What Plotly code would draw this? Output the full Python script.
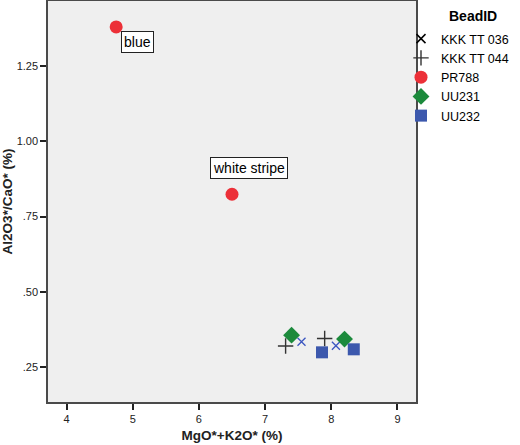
import plotly.graph_objects as go

# Data
kkk036_x = [7.55, 8.07]
kkk036_y = [0.334, 0.321]
kkk044_x = [7.31, 7.90]
kkk044_y = [0.320, 0.345]
pr788_x = [4.75, 6.50]
pr788_y = [1.38, 0.824]
pr788_labels = ["blue", "white stripe"]
uu231_x = [7.40, 8.20]
uu231_y = [0.356, 0.343]
uu232_x = [7.86, 8.34]
uu232_y = [0.299, 0.309]

x_ticks = [4, 5, 6, 7, 8, 9]
y_ticks = [0.25, 0.50, 0.75, 1.00, 1.25]
y_ticktext = [".25", ".50", ".75", "1.00", "1.25"]

FONT = "Liberation Sans, Arial, sans-serif"

fig = go.Figure()

# KKK TT 036 (x markers, drawn blue in plot, black in legend)
fig.add_trace(go.Scatter(x=kkk036_x, y=kkk036_y, mode="markers", showlegend=False,
                         marker=dict(symbol="x-thin", size=8, color="#3a55c0",
                                     line=dict(width=1.3, color="#3a55c0"))))
fig.add_trace(go.Scatter(x=[None], y=[None], mode="markers", name="KKK TT 036",
                         marker=dict(symbol="x-thin", size=9, color="black",
                                     line=dict(width=1.5, color="black"))))
fig.add_trace(go.Scatter(x=kkk044_x, y=kkk044_y, mode="markers", name="KKK TT 044",
                         marker=dict(symbol="cross-thin", size=11, color="#333333",
                                     line=dict(width=1.4, color="#333333"))))
fig.add_trace(go.Scatter(x=pr788_x, y=pr788_y, mode="markers", name="PR788",
                         marker=dict(symbol="circle", size=13, color="#ec3038",
                                     line=dict(width=0))))
fig.add_trace(go.Scatter(x=uu231_x, y=uu231_y, mode="markers", name="UU231",
                         marker=dict(symbol="diamond", size=13, color="#1c8a3c",
                                     line=dict(width=0))))
fig.add_trace(go.Scatter(x=uu232_x, y=uu232_y, mode="markers", name="UU232",
                         marker=dict(symbol="square", size=12, color="#3c58ad",
                                     line=dict(width=0))))

# Point labels
label_specs = [
    dict(xanchor="left", yanchor="top", xshift=5, yshift=-4),
    dict(xanchor="center", yanchor="bottom", xshift=17, yshift=15),
]
for xv, yv, txt, spec in zip(pr788_x, pr788_y, pr788_labels, label_specs):
    fig.add_annotation(x=xv, y=yv, text=txt, showarrow=False,
                       font=dict(family=FONT, size=14, color="black"),
                       bgcolor="white", bordercolor="#222222", borderwidth=1,
                       borderpad=2, **spec)

# Legend title
fig.add_annotation(xref="paper", yref="paper",
                   x=(473 - 48) / 368, y=1 - (16 - 1) / 401,
                   xanchor="center", yanchor="middle",
                   text="<b>BeadID</b>", showarrow=False,
                   font=dict(family=FONT, size=14, color="black"))

fig.update_layout(
    width=520, height=445,
    margin=dict(l=48, r=104, t=1, b=43, autoexpand=False),
    paper_bgcolor="white",
    plot_bgcolor="#efefef",
    font=dict(family=FONT, color="black"),
    legend=dict(
        x=(401 - 48) / 368, xanchor="left", y=1 - (24 - 1) / 401, yanchor="top",
        font=dict(family=FONT, size=12.5, color="black"),
        bgcolor="rgba(0,0,0,0)", itemwidth=30, tracegroupgap=0,
    ),
)

fig.update_xaxes(
    range=[3.72, 9.28], tickvals=x_ticks, ticktext=[str(v) for v in x_ticks],
    showgrid=False, zeroline=False, automargin=False,
    showline=True, mirror=True, linecolor="#4a4a4a", linewidth=1.5,
    ticks="outside", ticklen=6, tickwidth=1.5, tickcolor="#222222",
    tickfont=dict(family=FONT, size=11, color="#222222"),
    title=dict(text="<b>MgO*+K2O* (%)</b>", font=dict(family=FONT, size=13.5, color="#222222"),
               standoff=7),
)
fig.update_yaxes(
    range=[0.134, 1.466], tickvals=y_ticks, ticktext=y_ticktext,
    showgrid=False, zeroline=False, automargin=False,
    showline=True, mirror=True, linecolor="#4a4a4a", linewidth=1.5,
    ticks="outside", ticklen=6, tickwidth=1.5, tickcolor="#222222",
    tickfont=dict(family=FONT, size=11, color="#222222"),
    title=dict(text="<b>Al2O3*/CaO* (%)</b>", font=dict(family=FONT, size=13.5, color="#222222"),
               standoff=4),
)

fig.write_html("out.html", config={"displayModeBar": False},
               post_script="document.body.style.margin='0';")
